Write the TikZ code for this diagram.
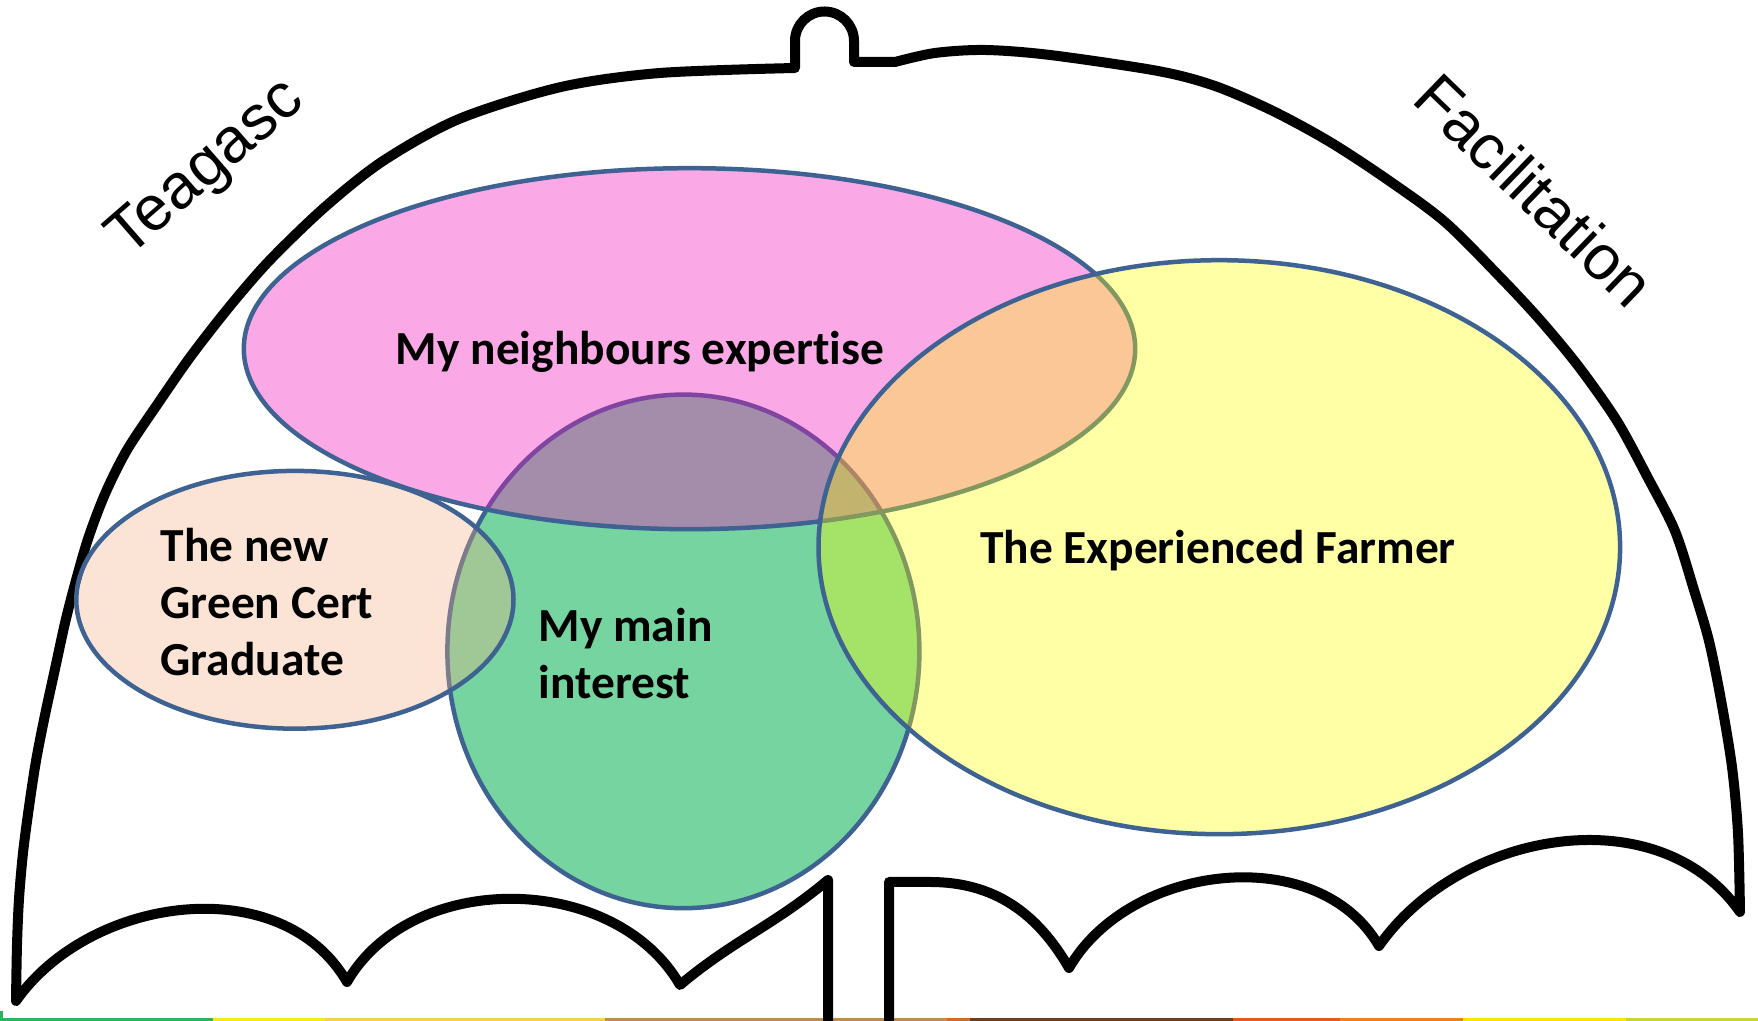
\documentclass[tikz,border=0pt]{standalone}
\usepackage{fontspec}
\setmainfont{Carlito}[Ligatures=NoCommon]
\newfontfamily\sidefont{Liberation Sans}
\usetikzlibrary{arrows,shapes}

\definecolor{rim}{RGB}{62,98,145}
\definecolor{pinkfill}{RGB}{241,20,187}
\definecolor{yellowfill}{RGB}{255,255,0}
\definecolor{greenfill}{RGB}{0,176,80}
\definecolor{peachfill}{RGB}{244,177,131}
\definecolor{stripA}{RGB}{45,179,94}
\definecolor{stripB}{RGB}{245,233,22}
\definecolor{stripC}{RGB}{245,207,80}
\definecolor{stripD}{RGB}{190,140,75}
\definecolor{stripE}{RGB}{210,105,40}
\definecolor{stripF}{RGB}{107,63,31}
\definecolor{stripG}{RGB}{226,90,34}
\definecolor{stripH}{RGB}{238,127,34}
\definecolor{stripI}{RGB}{255,230,0}
\definecolor{stripJ}{RGB}{199,211,52}

\begin{document}
\begin{tikzpicture}[x=0.1mm,y=0.1mm,
  brolly/.style={line width=1mm,line join=round},
  blob/.style={draw=rim,line width=0.45mm},
  lab/.style={font=\fontsize{13.5}{16.2}\selectfont\bfseries,inner sep=0pt},
  side/.style={font=\sidefont\fontsize{18}{21}\selectfont,inner sep=0pt}]

\useasboundingbox (0,0) rectangle (1758,1021);

% Coloured strip along the bottom
\foreach \a/\b/\c in {0/213/stripA,213/325/stripB,325/605/stripC,605/947/stripD,
  947/970/stripE,970/1233/stripF,1233/1340/stripG,1340/1463/stripH,
  1463/1626/stripI,1626/1758/stripJ}
  \fill[\c] (\a,0) rectangle (\b,3);
\fill[stripA] (0,0) rectangle (3,10);

% Umbrella
\draw[brolly] (828,0) -- (828,141)
  to[out=-140,in=40] (680,36)
  to[out=120,in=60] (347,39)
  to[out=120,in=55] (16,20)
  -- plot[smooth,tension=0.5] coordinates {(16,20) (17,76) (19,122) (23,168)
     (29,214) (36,260) (45,306) (55,352) (65,398) (75,437) (88,482) (105,527)
     (127,571) (159,619) (191,665) (230,715) (270,761) (325,814) (383,860)
     (459,902) (561,934) (660,948) (795,953)}
  -- (795,980) arc[start angle=180,end angle=0,radius=29.5]
  -- (854,959) -- (895,959)
  -- plot[smooth,tension=0.5] coordinates {(895,959) (935,968) (985,971)
     (1050,966) (1158,950) (1215,935) (1273,910) (1330,879) (1388,841)
     (1445,799) (1502,742) (1541,700) (1579,654) (1617,600) (1648,543)
     (1675,490) (1694,431) (1709,380) (1721,321) (1732,254) (1738,188)
     (1740,109)}
  to[out=125,in=55] (1379,75)
  to[out=120,in=60] (1069,53)
  to[out=120,in=0] (930,139)
  -- (889,139) -- (889,0);

% Circles
\draw[blob,fill=greenfill,fill opacity=0.54] (683.4,369.6) ellipse [x radius=236,y radius=256.8];
\draw[blob,fill=peachfill,fill opacity=0.34] (294.9,421.2) ellipse [x radius=218.6,y radius=128.9];
\draw[blob,fill=pinkfill,fill opacity=0.37] (689.5,672.3) ellipse [x radius=445.7,y radius=180.5];
\draw[blob,fill=yellowfill,fill opacity=0.35] (1219.3,473.8) ellipse [x radius=400.8,y radius=287];

% Labels
\node[lab] (neigh) at (640,669) {My neighbours expertise};
\node[lab] (farmer) at (1218,470) {The Experienced Farmer};
\node[lab,align=left,anchor=west] (mine) at (538,367) {My main\\interest};
\node[lab,align=left,anchor=west] (grad) at (160,419) {The new\\Green Cert\\Graduate};

% Umbrella sides
\node[side,rotate=41] (teag) at (207,851) {Teagasc};
\node[side,rotate=-44] (facil) at (1535,831) {Facilitation};

\end{tikzpicture}
\end{document}
